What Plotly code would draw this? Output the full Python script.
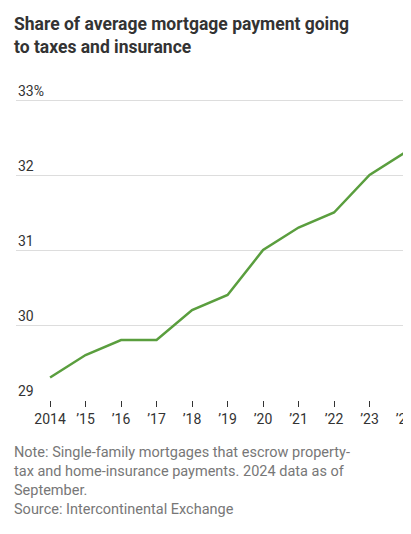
import plotly.graph_objects as go

years = [2014, 2015, 2016, 2017, 2018, 2019, 2020, 2021, 2022, 2023, 2024]
share = [29.3, 29.6, 29.8, 29.8, 30.2, 30.4, 31.0, 31.3, 31.5, 32.0, 32.3]
xlabels = ["2014", "’15", "’16", "’17", "’18", "’19", "’20", "’21", "’22", "’23", "’24"]
yticks = [29, 30, 31, 32, 33]
ylabels = ["29", "30", "31", "32", "33%"]

fig = go.Figure()
fig.add_trace(go.Scatter(x=years, y=share, mode="lines",
                         line=dict(color="#5a9e3e", width=2.5), hoverinfo="skip"))

font = "Roboto, Noto Sans, sans-serif"
fig.update_layout(
    width=411, height=534,
    margin=dict(l=8, r=4, t=80, b=142, autoexpand=False),
    plot_bgcolor="white", paper_bgcolor="white",
    showlegend=False,
    font=dict(family=font, color="#333", size=14),
)
fig.update_xaxes(range=[2013.04, 2024.28], tickvals=years, ticktext=xlabels,
                 showgrid=False, zeroline=False, showline=False, automargin=False,
                 ticks="outside", ticklen=6, tickcolor="#333",
                 tickfont=dict(size=14, color="#333"))
fig.update_yaxes(range=[29, 33.16], tickvals=yticks, showticklabels=False,
                 showgrid=True, gridcolor="#ddd", zeroline=False, automargin=False)

# y labels sit above their gridlines at the left edge
for v, lab in zip(yticks, ylabels):
    fig.add_annotation(xref="paper", yref="y", x=0, y=v, xanchor="left", yanchor="bottom",
                       text=lab, showarrow=False, yshift=-1,
                       font=dict(size=14, color="#333", family=font))

fig.add_annotation(xref="paper", yref="paper", x=-0.01, y=1.245, xanchor="left", yanchor="top",
                   align="left", showarrow=False,
                   text="<b>Share of average mortgage payment going<br>to taxes and insurance</b>",
                   font=dict(size=17.5, color="#333", family=font))
fig.add_annotation(xref="paper", yref="paper", x=-0.01, y=-0.135, xanchor="left", yanchor="top",
                   align="left", showarrow=False,
                   text="Note: Single-family mortgages that escrow property-<br>tax and home-insurance payments. 2024 data as of<br>September.<br>Source: Intercontinental Exchange",
                   font=dict(size=14.5, color="#777", family=font))

fig.write_html("out.html")
